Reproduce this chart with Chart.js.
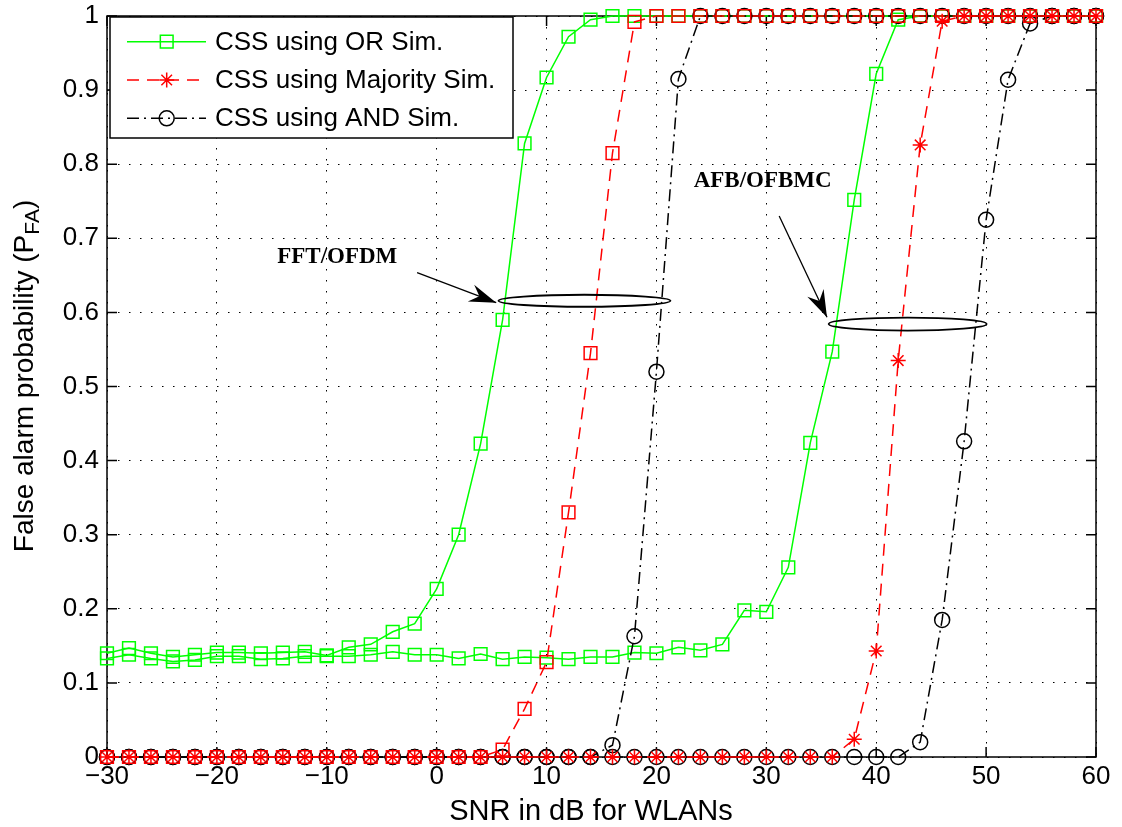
<!DOCTYPE html>
<html>
<head>
<meta charset="utf-8">
<script src="https://cdn.jsdelivr.net/npm/chart.js@4.4.0/dist/chart.umd.min.js"></script>
<style>
  html, body { margin: 0; padding: 0; background: #fff; }
  #wrap { width: 1122px; height: 827px; }
</style>
</head>
<body>
<div id="wrap"><canvas id="pfaChart" width="1122" height="827"></canvas></div>
<script>
// SNR grid (dB)
const snr = [-30, -28, -26, -24, -22, -20, -18, -16, -14, -12, -10, -8, -6, -4, -2,
  0, 2, 4, 6, 8, 10, 12, 14, 16, 18, 20, 22, 24, 26, 28, 30, 32, 34, 36, 38, 40,
  42, 44, 46, 48, 50, 52, 54, 56, 58, 60];

// FFT/OFDM curves
const orFft = [0.140, 0.147, 0.140, 0.135, 0.138, 0.141, 0.141, 0.140, 0.141, 0.142, 0.137,
  0.148, 0.152, 0.169, 0.180,
  0.227, 0.300, 0.423, 0.590, 0.828, 0.917, 0.972, 0.995,
  1, 1, 1, 1, 1, 1, 1, 1, 1, 1, 1, 1, 1, 1, 1, 1, 1, 1, 1, 1, 1, 1, 1];
const majFft = [0, 0, 0, 0, 0, 0, 0, 0, 0, 0, 0, 0, 0, 0, 0, 0, 0, 0,
  0.010, 0.065, 0.128, 0.330, 0.545, 0.815, 0.992,
  1, 1, 1, 1, 1, 1, 1, 1, 1, 1, 1, 1, 1, 1, 1, 1, 1, 1, 1, 1, 1];
const andFft = [0, 0, 0, 0, 0, 0, 0, 0, 0, 0, 0, 0, 0, 0, 0, 0, 0, 0, 0, 0, 0, 0, 0,
  0.016, 0.163, 0.520, 0.915,
  1, 1, 1, 1, 1, 1, 1, 1, 1, 1, 1, 1, 1, 1, 1, 1, 1, 1, 1];

// AFB/OFBMC curves
const orAfb = [0.133, 0.138, 0.133, 0.129, 0.131, 0.136, 0.136, 0.132, 0.133, 0.136, 0.136,
  0.136, 0.138, 0.142, 0.138,
  0.138, 0.133, 0.139, 0.132, 0.135, 0.134, 0.132, 0.135, 0.135, 0.141, 0.140, 0.148,
  0.144, 0.152, 0.198, 0.196,
  0.256, 0.424, 0.547, 0.752, 0.922, 0.995,
  1, 1, 1, 1, 1, 1, 1, 1, 1];
const majAfb = [0, 0, 0, 0, 0, 0, 0, 0, 0, 0, 0, 0, 0, 0, 0, 0, 0, 0, 0, 0, 0, 0, 0, 0,
  0, 0, 0, 0, 0, 0, 0, 0, 0, 0,
  0.024, 0.143, 0.535, 0.826, 0.993,
  1, 1, 1, 1, 1, 1, 1];
const andAfb = [0, 0, 0, 0, 0, 0, 0, 0, 0, 0, 0, 0, 0, 0, 0, 0, 0, 0, 0, 0, 0, 0, 0, 0,
  0, 0, 0, 0, 0, 0, 0, 0, 0, 0, 0, 0, 0,
  0.020, 0.185, 0.426, 0.725, 0.914, 0.990,
  1, 1, 1];

const legendLabels = ['CSS using OR Sim.', 'CSS using Majority Sim.', 'CSS using AND Sim.'];
const xTitle = 'SNR in dB for WLANs';

const GREEN = '#00ff00';
const RED = '#ff0000';
const BLACK = '#000000';
const DASH = [12, 8];
const DASHDOT = [12, 5, 2, 5];

const pts = vals => snr.map((x, i) => ({ x: x, y: vals[i] }));

function series(vals, color, dash, pointStyle, radius, order) {
    return {
        data: pts(vals),
        borderColor: color,
        borderWidth: 1.5,
        borderDash: dash,
        pointStyle: pointStyle,
        pointRadius: radius,
        pointBorderColor: color,
        pointBackgroundColor: 'rgba(0,0,0,0)',
        pointBorderWidth: 1.5,
        tension: 0,
        clip: false,
        order: order
    };
}

const datasets = [
    series(orFft, GREEN, [], 'rect', 9, 2),
    series(majFft, RED, DASH, 'rect', 9, 0),
    series(andFft, BLACK, DASHDOT, 'circle', 7.5, 1),
    series(orAfb, GREEN, [], 'rect', 9, 2),
    series(majAfb, RED, DASH, 'star', 7.5, 0),
    series(andAfb, BLACK, DASHDOT, 'circle', 7.5, 1)
];

// legend samples (style of each entry)
const legendStyles = [
    { color: GREEN, dash: [], pointStyle: 'rect', radius: 9 },
    { color: RED, dash: DASH, pointStyle: 'star', radius: 7.5 },
    { color: BLACK, dash: DASHDOT, pointStyle: 'circle', radius: 7.5 }
];

// annotation placement in data units
const notes = [
    { text: 'FFT/OFDM', x: -3.58, y: 0.6667, align: 'right',
      arrowFrom: [-1.78, 0.6536], arrowTo: [5.42, 0.6131],
      ellipse: { x: 13.45, y: 0.6157, rx: 86, ry: 6 } },
    { text: 'AFB/OFBMC', x: 23.39, y: 0.7696, align: 'left',
      arrowFrom: [31.17, 0.7301], arrowTo: [35.52, 0.5934],
      ellipse: { x: 42.86, y: 0.5843, rx: 79, ry: 6.5 } }
];

const SANS = '"Liberation Sans", Arial, Helvetica, sans-serif';
const SERIF = '"Liberation Serif", "Times New Roman", serif';

function drawArrowHead(ctx, x0, y0, x1, y1) {
    const ang = Math.atan2(y1 - y0, x1 - x0);
    const L = 27, W = 9, notch = 18;
    ctx.save();
    ctx.translate(x1, y1);
    ctx.rotate(ang);
    ctx.beginPath();
    ctx.moveTo(0, 0);
    ctx.lineTo(-L, -W);
    ctx.lineTo(-notch, 0);
    ctx.lineTo(-L, W);
    ctx.closePath();
    ctx.fill();
    ctx.restore();
}

const framePlugin = {
    id: 'frame',
    beforeDatasetsDraw(chart) {
        const { ctx, chartArea: a, scales: { x, y } } = chart;
        ctx.save();
        ctx.strokeStyle = '#000';
        ctx.lineWidth = 1.5;
        ctx.setLineDash([]);
        ctx.strokeRect(a.left, a.top, a.right - a.left, a.bottom - a.top);
        ctx.beginPath();
        x.ticks.forEach(t => {
            const p = x.getPixelForValue(t.value);
            ctx.moveTo(p, a.bottom); ctx.lineTo(p, a.bottom - 10);
            ctx.moveTo(p, a.top); ctx.lineTo(p, a.top + 10);
        });
        y.ticks.forEach(t => {
            const p = y.getPixelForValue(t.value);
            ctx.moveTo(a.left, p); ctx.lineTo(a.left + 10, p);
            ctx.moveTo(a.right, p); ctx.lineTo(a.right - 10, p);
        });
        ctx.stroke();
        ctx.restore();
    },
    afterDraw(chart) {
        const { ctx, chartArea: a, scales: { x, y } } = chart;
        ctx.save();
        ctx.fillStyle = '#000';

        // x axis title
        ctx.font = '29px ' + SANS;
        ctx.textAlign = 'center';
        ctx.textBaseline = 'middle';
        ctx.fillText(xTitle, 591, 812);

        // y axis title with subscript
        ctx.save();
        ctx.translate(33, 376);
        ctx.rotate(-Math.PI / 2);
        ctx.textAlign = 'left';
        ctx.textBaseline = 'alphabetic';
        const main = 'False alarm probability (P';
        ctx.font = '28px ' + SANS;
        const wMain = ctx.measureText(main).width;
        const wClose = ctx.measureText(')').width;
        ctx.font = '21px ' + SANS;
        const wSub = ctx.measureText('FA').width;
        let x0 = -(wMain + wSub + wClose) / 2;
        ctx.font = '28px ' + SANS;
        ctx.fillText(main, x0, 0);
        ctx.font = '21px ' + SANS;
        ctx.fillText('FA', x0 + wMain, 6);
        ctx.font = '28px ' + SANS;
        ctx.fillText(')', x0 + wMain + wSub, 0);
        ctx.restore();

        // legend
        const box = { l: 110, t: 17, r: 513, b: 138 };
        ctx.fillStyle = '#fff';
        ctx.fillRect(box.l, box.t, box.r - box.l, box.b - box.t);
        ctx.strokeStyle = '#000';
        ctx.lineWidth = 1.5;
        ctx.strokeRect(box.l, box.t, box.r - box.l, box.b - box.t);
        legendStyles.forEach((s, i) => {
            const ry = 41.7 + i * 38.3;
            ctx.strokeStyle = s.color;
            ctx.lineWidth = 1.5;
            ctx.setLineDash(s.dash);
            ctx.beginPath();
            ctx.moveTo(127, ry); ctx.lineTo(206, ry);
            ctx.stroke();
            ctx.setLineDash([]);
            ctx.fillStyle = 'rgba(0,0,0,0)';
            Chart.helpers.drawPoint(ctx, { pointStyle: s.pointStyle, radius: s.radius, rotation: 0, borderWidth: 1.5 }, 166.7, ry);
            ctx.fillStyle = '#000';
            ctx.font = '26px ' + SANS;
            ctx.textAlign = 'left';
            ctx.textBaseline = 'middle';
            ctx.fillText(legendLabels[i], 215, ry + 1);
        });

        // annotations: labels, arrows, ellipses
        notes.forEach(n => {
            ctx.fillStyle = '#000';
            ctx.strokeStyle = '#000';
            ctx.font = 'bold 23px ' + SERIF;
            ctx.textAlign = n.align;
            ctx.textBaseline = 'alphabetic';
            ctx.fillText(n.text, x.getPixelForValue(n.x), y.getPixelForValue(n.y));

            const ax0 = x.getPixelForValue(n.arrowFrom[0]), ay0 = y.getPixelForValue(n.arrowFrom[1]);
            const ax1 = x.getPixelForValue(n.arrowTo[0]), ay1 = y.getPixelForValue(n.arrowTo[1]);
            ctx.lineWidth = 1.3;
            ctx.beginPath();
            ctx.moveTo(ax0, ay0);
            ctx.lineTo(ax1, ay1);
            ctx.stroke();
            drawArrowHead(ctx, ax0, ay0, ax1, ay1);

            ctx.lineWidth = 1.8;
            ctx.beginPath();
            ctx.ellipse(x.getPixelForValue(n.ellipse.x), y.getPixelForValue(n.ellipse.y),
                n.ellipse.rx, n.ellipse.ry, 0, 0, Math.PI * 2);
            ctx.stroke();
        });
        ctx.restore();
    }
};

const ctx = document.getElementById('pfaChart').getContext('2d');
const pfaChart = new Chart(ctx, {
    type: 'line',
    data: { datasets: datasets },
    options: {
        responsive: false,
        animation: false,
        layout: { padding: { top: 16, right: 26, left: 0, bottom: 0 } },
        plugins: {
            legend: { display: false },
            tooltip: { enabled: false }
        },
        scales: {
            x: {
                type: 'linear',
                min: -30,
                max: 60,
                afterFit: s => { s.height = 70; s.paddingLeft = 0; s.paddingRight = 0; },
                ticks: {
                    stepSize: 10,
                    padding: 4,
                    color: '#000',
                    maxRotation: 0,
                    autoSkip: false,
                    font: { family: SANS, size: 26 },
                    callback: v => (v < 0 ? '\u2212' + Math.abs(v) : String(v))
                },
                grid: { color: '#000', lineWidth: 1, drawTicks: false },
                border: { display: false, dash: [1.5, 9.5] }
            },
            y: {
                type: 'linear',
                min: 0,
                max: 1,
                afterFit: s => { s.width = 107; s.paddingTop = 0; s.paddingBottom = 0; },
                ticks: {
                    stepSize: 0.1,
                    padding: 8,
                    color: '#000',
                    font: { family: SANS, size: 26 },
                    callback: v => String(Math.round(v * 10) / 10)
                },
                grid: { color: '#000', lineWidth: 1, drawTicks: false },
                border: { display: false, dash: [1.5, 9.5] }
            }
        }
    },
    plugins: [framePlugin]
});
</script>
</body>
</html>
